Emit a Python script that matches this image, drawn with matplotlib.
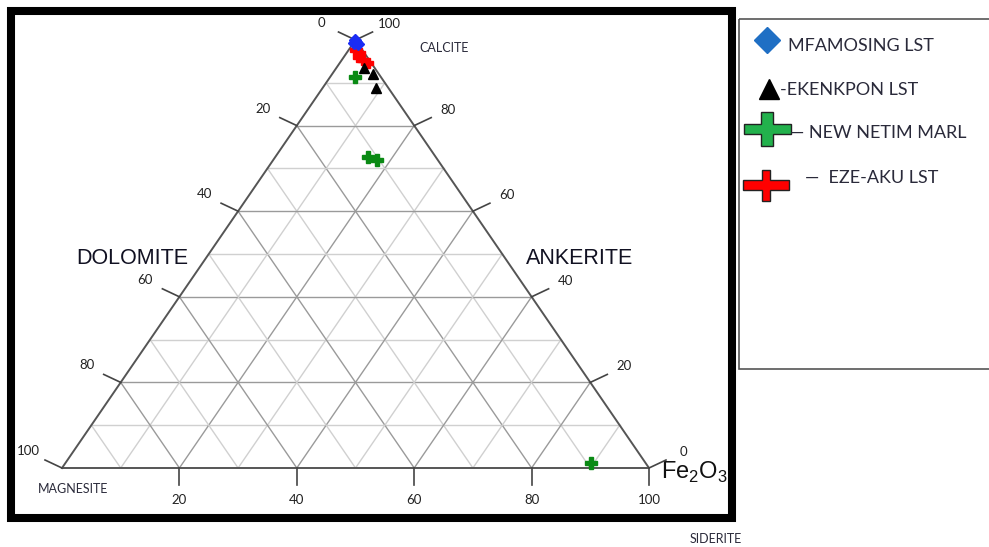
import matplotlib
matplotlib.use("Agg")
import matplotlib.pyplot as plt
from matplotlib.patches import Polygon, Rectangle

# ---- data: (Calcite %, Siderite %) ; Magnesite = 100 - C - S ----
mfamosing_C = [99.9, 99.6, 99.0, 99.3]
mfamosing_S = [0.0, 0.3, 0.9, 0.1]
ekenkpon_C = [93.5, 92.0, 88.8]
ekenkpon_S = [4.7, 7.0, 9.1]
netim_C = [91.4, 72.7, 72.0, 1.2]
netim_S = [4.2, 15.8, 17.7, 89.5]
ezeaku_C = [97.7, 97.0, 96.0, 95.3, 94.6]
ezeaku_S = [1.1, 2.3, 2.4, 3.6, 4.8]

tick_vals = [0, 20, 40, 60, 80, 100]
legend_labels = ["MFAMOSING LST", "-EKENKPON LST", "\u2014 NEW NETIM MARL", "\u2014  EZE-AKU LST"]

W, H = 989, 547
fig = plt.figure(figsize=(W / 100, H / 100), dpi=100)
bg = fig.add_axes([0, 0, 1, 1])
bg.set_xlim(0, W)
bg.set_ylim(H, 0)
bg.axis("off")

# ternary axes (x = S + C/2, y = C)
L, R, T, B = 62, 649, 40, 468
ax = fig.add_axes([L / W, (H - B) / H, (R - L) / W, (B - T) / H])
ax.set_xlim(0, 100)
ax.set_ylim(0, 100)
ax.axis("off")
px = 100 / (R - L)
py = 100 / (B - T)


def tern(C, S):
    return S + C / 2.0, C


# grid lines
for k in range(10, 100, 10):
    col = "#9a9a9a" if k % 20 == 0 else "#d0d0d0"
    lw = 1.0
    ax.plot([k / 2, 100 - k / 2], [k, k], color=col, lw=lw, zorder=1)
    ax.plot([k, k + (100 - k) / 2], [0, 100 - k], color=col, lw=lw, zorder=1)
    ax.plot([100 - k, (100 - k) / 2], [0, 100 - k], color=col, lw=lw, zorder=1)

# outline
ax.plot([0, 100, 50, 0], [0, 0, 100, 0], color="#555555", lw=1.4, zorder=2,
        clip_on=False)

tick_font = dict(family="Lato", fontsize=9.5, color="#222222")
for c in tick_vals:
    # left side
    x0, y0 = tern(c, 0)
    x1, y1 = x0 - 17 * px, y0 + 8 * py
    ax.plot([x0, x1], [y0, y1], color="#444444", lw=1.2, clip_on=False)
    ax.text(x1 - 17 * px, y1 + 9 * py, str(100 - c), ha="center", va="center",
            clip_on=False, **tick_font)
    # right side
    x0, y0 = tern(c, 100 - c)
    x1, y1 = x0 + 17 * px, y0 + 8 * py
    ax.plot([x0, x1], [y0, y1], color="#444444", lw=1.2, clip_on=False)
    ax.text(x1 + 17 * px, y1 + 8 * py, str(c), ha="center", va="center",
            clip_on=False, **tick_font)
for s in tick_vals[1:]:
    x0, y0 = tern(0, s)
    ax.plot([x0, x0], [y0, y0 - 17 * py], color="#444444", lw=1.2, clip_on=False)
    ax.text(x0, y0 - 32 * py, str(s), ha="center", va="center",
            clip_on=False, **tick_font)

# data points
xb, yb = zip(*[tern(c, s) for c, s in zip(mfamosing_C, mfamosing_S)])
ax.plot(xb, yb, "D", color="#1a2cf5", ms=6.5, mec="#1a2cf5", ls="none",
        clip_on=False, zorder=5)
xr, yr = zip(*[tern(c, s) for c, s in zip(ezeaku_C, ezeaku_S)])
ax.plot(xr, yr, "P", color="#ff0000", ms=7, ls="none", clip_on=False, zorder=4)
xk, yk = zip(*[tern(c, s) for c, s in zip(ekenkpon_C, ekenkpon_S)])
ax.plot(xk, yk, "^", color="black", ms=7.5, ls="none", clip_on=False, zorder=4)
xg, yg = zip(*[tern(c, s) for c, s in zip(netim_C, netim_S)])
ax.plot(xg, yg, "P", color="#0a8a14", ms=8, ls="none", clip_on=False, zorder=4)

# frame
bg.add_patch(Rectangle((11, 11), 721, 507, fill=False, ec="black", lw=5.8))

# labels
lab = dict(family="Lato", color="#2a2a3a")
bg.text(444, 48, "CALCITE", ha="center", va="center", fontsize=9, **lab)
bg.text(73, 489, "MAGNESITE", ha="center", va="center", fontsize=9, **lab)
bg.text(716, 539, "SIDERITE", ha="center", va="center", fontsize=9, **lab)
big = dict(family="Liberation Sans", color="#111122", fontsize=15.5)
bg.text(132, 259, "DOLOMITE", ha="center", va="center", **big)
bg.text(580, 258, "ANKERITE", ha="center", va="center", **big)
bg.text(694, 472, r"Fe$_{\mathregular{2}}$O$_{\mathregular{3}}$", ha="center",
        va="center", family="Liberation Sans", fontsize=17, color="#111111")

# legend box
bg.add_patch(Rectangle((739, 19), 260, 350, fill=False, ec="#555555", lw=1.2,
                       clip_on=False))
leg_txt = dict(family="Lato", fontsize=13, color="#2a2a3a", va="center", ha="left")
bg.plot([767], [40], marker="D", ms=13, color="#1f6fc4", ls="none")
bg.text(788, 46, legend_labels[0], **leg_txt)
bg.plot([769], [89], marker="^", ms=14, color="black", ls="none")
bg.text(780, 90, legend_labels[1], **leg_txt)


def plus(cx, cy, w, h, bw, bh, fc):
    pts = [(cx - bw / 2, cy - h / 2), (cx + bw / 2, cy - h / 2), (cx + bw / 2, cy - bh / 2),
           (cx + w / 2, cy - bh / 2), (cx + w / 2, cy + bh / 2), (cx + bw / 2, cy + bh / 2),
           (cx + bw / 2, cy + h / 2), (cx - bw / 2, cy + h / 2), (cx - bw / 2, cy + bh / 2),
           (cx - w / 2, cy + bh / 2), (cx - w / 2, cy - bh / 2), (cx - bw / 2, cy - bh / 2)]
    bg.add_patch(Polygon(pts, closed=True, fc=fc, ec="#222222", lw=1.0))


plus(767, 129, 47, 34, 12, 10, "#22b14c")
bg.text(790, 133, legend_labels[2], **leg_txt)
plus(766, 185, 46, 31, 8, 10, "#ff0000")
bg.text(805, 178, legend_labels[3], **leg_txt)

fig.savefig("out.png", dpi=100)
